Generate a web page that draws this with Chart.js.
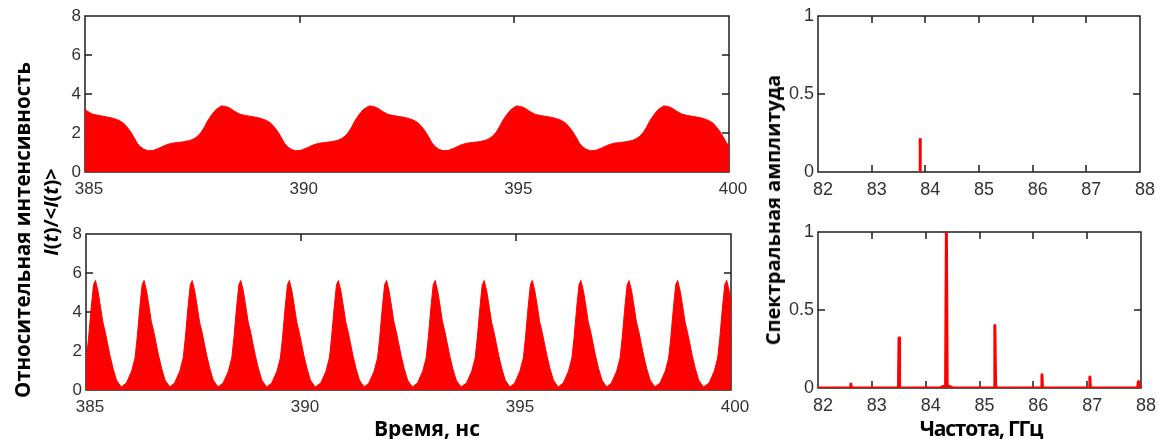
<!DOCTYPE html>
<html>
<head>
<meta charset="utf-8">
<script src="https://cdn.jsdelivr.net/npm/chart.js@4.4.1/dist/chart.umd.min.js"></script>
<style>
  html, body { margin: 0; padding: 0; background: #fff; }
  body { width: 1158px; height: 439px; position: relative; overflow: hidden; font-family: "Open Sans", sans-serif; }
  .panel { position: absolute; }
  .title { position: absolute; font-weight: bold; color: #000; white-space: nowrap; transform: translate(-50%, -50%); line-height: 1; }
  .vert { transform: translate(-50%, -50%) rotate(-90deg); }
</style>
</head>
<body>
<div class="panel" style="left:0;top:0;width:760px;height:200px"><canvas id="chartTimeTop"></canvas></div>
<div class="panel" style="left:0;top:218px;width:760px;height:200px"><canvas id="chartTimeBottom"></canvas></div>
<div class="panel" style="left:760px;top:0;width:398px;height:200px"><canvas id="chartSpecTop"></canvas></div>
<div class="panel" style="left:760px;top:216px;width:398px;height:200px"><canvas id="chartSpecBottom"></canvas></div>

<div class="title vert" style="left:22px;top:230px;font-size:20.5px">Относительная интенсивность</div>
<div class="title vert" style="left:51px;top:212px;font-size:20px"><i>I</i>(<i>t</i>)/&lt;<i>I</i>(<i>t</i>)&gt;</div>
<div class="title vert" style="left:773px;top:210px;font-size:20px">Спектральная амплитуда</div>
<div class="title" style="left:427px;top:428px;font-size:21px">Время, нс</div>
<div class="title" style="left:981px;top:428px;font-size:21px;letter-spacing:-1.2px">Частота, ГГц</div>

<script>
// Верхняя временная диаграмма
const timeTop = [
  385.00, 385.05, 385.18, 385.30, 385.49, 385.65, 385.80, 385.90, 385.97, 386.05, 386.13, 386.21, 386.28, 386.37, 386.47,
  386.60, 386.75, 386.90, 387.03, 387.15, 387.30, 387.45, 387.55, 387.63, 387.71, 387.78, 387.85, 387.95, 388.05, 388.18,
  388.28, 388.38, 388.48, 388.61, 388.73, 388.92, 389.08, 389.23, 389.33, 389.40, 389.48, 389.56, 389.64, 389.71, 389.80, 389.90,
  390.03, 390.18, 390.33, 390.46, 390.58, 390.73, 390.88, 390.98, 391.06, 391.14, 391.21, 391.28, 391.38, 391.48, 391.62,
  391.72, 391.82, 391.92, 392.05, 392.17, 392.36, 392.52, 392.67, 392.77, 392.84, 392.92, 393.00, 393.08, 393.15, 393.24, 393.34,
  393.47, 393.62, 393.77, 393.90, 394.02, 394.17, 394.32, 394.42, 394.50, 394.58, 394.65, 394.72, 394.82, 394.92, 395.05,
  395.15, 395.25, 395.35, 395.48, 395.60, 395.79, 395.95, 396.10, 396.20, 396.27, 396.35, 396.43, 396.51, 396.58, 396.67, 396.77,
  396.90, 397.05, 397.20, 397.33, 397.45, 397.60, 397.75, 397.85, 397.93, 398.01, 398.08, 398.15, 398.25, 398.35, 398.48,
  398.58, 398.68, 398.78, 398.91, 399.03, 399.22, 399.38, 399.53, 399.63, 399.70, 399.78, 399.86, 399.94, 400.00
];
const intensityTop = [
  3.22, 3.12, 2.96, 2.91, 2.83, 2.76, 2.64, 2.50, 2.33, 2.10, 1.82, 1.50, 1.31, 1.17, 1.09,
  1.11, 1.25, 1.40, 1.48, 1.51, 1.55, 1.62, 1.72, 1.85, 2.05, 2.30, 2.60, 2.93, 3.20, 3.39,
  3.36, 3.27, 3.12, 2.96, 2.90, 2.83, 2.76, 2.64, 2.50, 2.33, 2.10, 1.82, 1.50, 1.31, 1.17, 1.09,
  1.11, 1.25, 1.40, 1.48, 1.51, 1.55, 1.62, 1.72, 1.85, 2.05, 2.30, 2.60, 2.93, 3.20, 3.39,
  3.36, 3.27, 3.12, 2.96, 2.90, 2.83, 2.76, 2.64, 2.50, 2.33, 2.10, 1.82, 1.50, 1.31, 1.17, 1.09,
  1.11, 1.25, 1.40, 1.48, 1.51, 1.55, 1.62, 1.72, 1.85, 2.05, 2.30, 2.60, 2.93, 3.20, 3.39,
  3.36, 3.27, 3.12, 2.96, 2.90, 2.83, 2.76, 2.64, 2.50, 2.33, 2.10, 1.82, 1.50, 1.31, 1.17, 1.09,
  1.11, 1.25, 1.40, 1.48, 1.51, 1.55, 1.62, 1.72, 1.85, 2.05, 2.30, 2.60, 2.93, 3.20, 3.39,
  3.36, 3.27, 3.12, 2.96, 2.90, 2.83, 2.76, 2.64, 2.50, 2.33, 2.10, 1.82, 1.50, 1.36
];

// Нижняя временная диаграмма (импульсы)
const timeBottom = [
  385.00, 385.01, 385.06, 385.12, 385.175, 385.22, 385.28, 385.335, 385.39, 385.45, 385.50, 385.56, 385.63, 385.71, 385.82,
  385.94, 386.06, 386.14, 386.19, 386.25, 386.305, 386.35, 386.41, 386.465, 386.52, 386.58, 386.63, 386.69, 386.76, 386.84, 386.95,
  387.06, 387.18, 387.26, 387.31, 387.37, 387.425, 387.47, 387.53, 387.585, 387.64, 387.70, 387.75, 387.81, 387.88, 387.96, 388.07,
  388.19, 388.31, 388.39, 388.44, 388.50, 388.555, 388.60, 388.66, 388.715, 388.77, 388.83, 388.88, 388.94, 389.01, 389.09, 389.20,
  389.32, 389.44, 389.52, 389.57, 389.63, 389.685, 389.73, 389.79, 389.845, 389.90, 389.96, 390.01, 390.07, 390.14, 390.22, 390.33,
  390.46, 390.58, 390.66, 390.71, 390.77, 390.825, 390.87, 390.93, 390.985, 391.04, 391.10, 391.15, 391.21, 391.28, 391.36, 391.47,
  391.58, 391.70, 391.78, 391.83, 391.89, 391.945, 391.99, 392.05, 392.105, 392.16, 392.22, 392.27, 392.33, 392.40, 392.48, 392.59,
  392.71, 392.83, 392.91, 392.96, 393.02, 393.075, 393.12, 393.18, 393.235, 393.29, 393.35, 393.40, 393.46, 393.53, 393.61, 393.72,
  393.85, 393.97, 394.05, 394.10, 394.16, 394.215, 394.26, 394.32, 394.375, 394.43, 394.49, 394.54, 394.60, 394.67, 394.75, 394.86,
  394.97, 395.09, 395.17, 395.22, 395.28, 395.335, 395.38, 395.44, 395.495, 395.55, 395.61, 395.66, 395.72, 395.79, 395.87, 395.98,
  396.10, 396.22, 396.30, 396.35, 396.41, 396.465, 396.51, 396.57, 396.625, 396.68, 396.74, 396.79, 396.85, 396.92, 397.00, 397.11,
  397.22, 397.34, 397.42, 397.47, 397.53, 397.585, 397.63, 397.69, 397.745, 397.80, 397.86, 397.91, 397.97, 398.04, 398.12, 398.23,
  398.35, 398.47, 398.55, 398.60, 398.66, 398.715, 398.76, 398.82, 398.875, 398.93, 398.99, 399.04, 399.10, 399.17, 399.25, 399.36,
  399.49, 399.61, 399.69, 399.74, 399.80, 399.855, 399.90, 399.96, 400.00
];
const intensityBottom = [
  1.55, 1.64, 2.67, 4.20, 5.40, 5.62, 5.06, 4.30, 3.50, 2.95, 2.40, 1.75, 1.10, 0.50, 0.15,
  0.36, 0.96, 1.64, 2.67, 4.20, 5.40, 5.62, 5.06, 4.30, 3.50, 2.95, 2.40, 1.75, 1.10, 0.50, 0.15,
  0.36, 0.96, 1.64, 2.67, 4.20, 5.40, 5.61, 5.06, 4.30, 3.50, 2.95, 2.40, 1.75, 1.10, 0.50, 0.15,
  0.36, 0.96, 1.64, 2.67, 4.20, 5.40, 5.62, 5.06, 4.30, 3.50, 2.95, 2.40, 1.75, 1.10, 0.50, 0.15,
  0.36, 0.96, 1.64, 2.67, 4.20, 5.40, 5.62, 5.06, 4.30, 3.50, 2.95, 2.40, 1.75, 1.10, 0.50, 0.15,
  0.36, 0.96, 1.64, 2.67, 4.20, 5.40, 5.61, 5.06, 4.30, 3.50, 2.95, 2.40, 1.75, 1.10, 0.50, 0.15,
  0.36, 0.96, 1.64, 2.67, 4.20, 5.40, 5.62, 5.06, 4.30, 3.50, 2.95, 2.40, 1.75, 1.10, 0.50, 0.15,
  0.36, 0.96, 1.64, 2.67, 4.20, 5.40, 5.62, 5.06, 4.30, 3.50, 2.95, 2.40, 1.75, 1.10, 0.50, 0.15,
  0.36, 0.96, 1.64, 2.67, 4.20, 5.40, 5.61, 5.06, 4.30, 3.50, 2.95, 2.40, 1.75, 1.10, 0.50, 0.15,
  0.36, 0.96, 1.64, 2.67, 4.20, 5.40, 5.62, 5.06, 4.30, 3.50, 2.95, 2.40, 1.75, 1.10, 0.50, 0.15,
  0.36, 0.96, 1.64, 2.67, 4.20, 5.40, 5.62, 5.06, 4.30, 3.50, 2.95, 2.40, 1.75, 1.10, 0.50, 0.15,
  0.36, 0.96, 1.64, 2.67, 4.20, 5.40, 5.61, 5.06, 4.30, 3.50, 2.95, 2.40, 1.75, 1.10, 0.50, 0.15,
  0.36, 0.96, 1.64, 2.67, 4.20, 5.40, 5.62, 5.06, 4.30, 3.50, 2.95, 2.40, 1.75, 1.10, 0.50, 0.15,
  0.36, 0.96, 1.64, 2.67, 4.20, 5.40, 5.62, 5.06, 4.60
];

// Спектры
const freqTop = [83.905, 83.905];
const ampTop = [0, 0.217];
const freqBottom = [
  82.00, 82.60, 82.61, 82.62, 83.48, 83.495, 83.505, 83.515, 83.53, 84.26, 84.31, 84.37, 84.385, 84.40, 84.46, 84.51,
  85.27, 85.285, 85.30, 86.15, 86.16, 86.17, 87.04, 87.05, 87.06, 87.94, 87.95, 87.96, 88.00
];
const ampBottom = [
  0, 0, 0.026, 0, 0, 0.008, 0.32, 0.008, 0, 0, 0.008, 0.014, 1.0, 0.014, 0.008, 0,
  0, 0.40, 0, 0, 0.085, 0, 0, 0.07, 0, 0, 0.04, 0, 0
];

// Метки осей
const timeTicks = [385, 390, 395, 400];
const intensityTicks = [0, 2, 4, 6, 8];
const freqTicks = [82, 83, 84, 85, 86, 87, 88];
const ampTicks = [0, 0.5, 1];

// Рамка с засечками внутрь (как в MATLAB)
const framePlugin = {
  id: 'frame',
  beforeDatasetsDraw(chart) {
    const { ctx, chartArea: a, scales: { x, y } } = chart;
    const len = 7;
    ctx.save();
    ctx.strokeStyle = '#1e1e1e';
    ctx.lineWidth = 1.5;
    ctx.beginPath();
    ctx.rect(a.left, a.top, a.right - a.left, a.bottom - a.top);
    x.ticks.forEach(t => {
      const px = Math.round(x.getPixelForValue(t.value));
      ctx.moveTo(px, a.top); ctx.lineTo(px, a.top + len);
      ctx.moveTo(px, a.bottom); ctx.lineTo(px, a.bottom - len);
    });
    y.ticks.forEach(t => {
      const py = Math.round(y.getPixelForValue(t.value));
      ctx.moveTo(a.left, py); ctx.lineTo(a.left + len, py);
      ctx.moveTo(a.right, py); ctx.lineTo(a.right - len, py);
    });
    ctx.stroke();
    ctx.restore();
  }
};

function makeChart(id, xs, ys, cfg) {
  const points = xs.map((v, i) => ({ x: v, y: ys[i] }));
  const tickFont = { family: 'Liberation Sans', size: cfg.fontSize };
  return new Chart(document.getElementById(id), {
    type: 'line',
    data: {
      datasets: [{
        data: points,
        borderColor: '#ff0000',
        backgroundColor: '#ff0000',
        borderWidth: cfg.lineWidth,
        fill: cfg.fill ? 'origin' : false,
        pointRadius: 0,
        tension: 0,
        borderJoinStyle: 'round'
      }]
    },
    options: {
      responsive: true,
      maintainAspectRatio: false,
      animation: false,
      layout: { padding: cfg.padding },
      plugins: { legend: { display: false }, tooltip: { enabled: false } },
      scales: {
        x: {
          type: 'linear',
          min: cfg.xTicks[0],
          max: cfg.xTicks[cfg.xTicks.length - 1],
          grid: { display: false, drawTicks: false },
          border: { display: false },
          afterBuildTicks: s => { s.ticks = cfg.xTicks.map(v => ({ value: v })); },
          afterFit: s => { s.height = cfg.xHeight; s.paddingLeft = 0; s.paddingRight = 0; },
          ticks: { font: tickFont, color: '#333', padding: 7, labelOffset: cfg.labelOffset, maxRotation: 0, autoSkip: false, callback: v => String(v) }
        },
        y: {
          min: cfg.yTicks[0],
          max: cfg.yTicks[cfg.yTicks.length - 1],
          grid: { display: false, drawTicks: false },
          border: { display: false },
          afterBuildTicks: s => { s.ticks = cfg.yTicks.map(v => ({ value: v })); },
          afterFit: s => { s.width = cfg.yWidth; s.paddingTop = 0; s.paddingBottom = 0; },
          ticks: { font: tickFont, color: '#333', padding: 4, autoSkip: false, callback: v => String(v) }
        }
      }
    },
    plugins: [framePlugin]
  });
}

makeChart('chartTimeTop', timeTop, intensityTop, {
  xTicks: timeTicks, yTicks: intensityTicks, fill: true, lineWidth: 1, fontSize: 17,
  padding: { left: 55, top: 16, right: 31, bottom: 0 }, yWidth: 30, xHeight: 28, labelOffset: 4
});
makeChart('chartTimeBottom', timeBottom, intensityBottom, {
  xTicks: timeTicks, yTicks: intensityTicks, fill: true, lineWidth: 1, fontSize: 17,
  padding: { left: 56, top: 16, right: 29, bottom: 0 }, yWidth: 30, xHeight: 28, labelOffset: 4
});
makeChart('chartSpecTop', freqTop, ampTop, {
  xTicks: freqTicks, yTicks: ampTicks, fill: false, lineWidth: 3, fontSize: 18,
  padding: { left: 18, top: 16, right: 18, bottom: 0 }, yWidth: 40, xHeight: 28, labelOffset: 5
});
makeChart('chartSpecBottom', freqBottom, ampBottom, {
  xTicks: freqTicks, yTicks: ampTicks, fill: false, lineWidth: 3, fontSize: 18,
  padding: { left: 18, top: 16, right: 17, bottom: 0 }, yWidth: 40, xHeight: 28, labelOffset: 5
});
</script>
</body>
</html>
